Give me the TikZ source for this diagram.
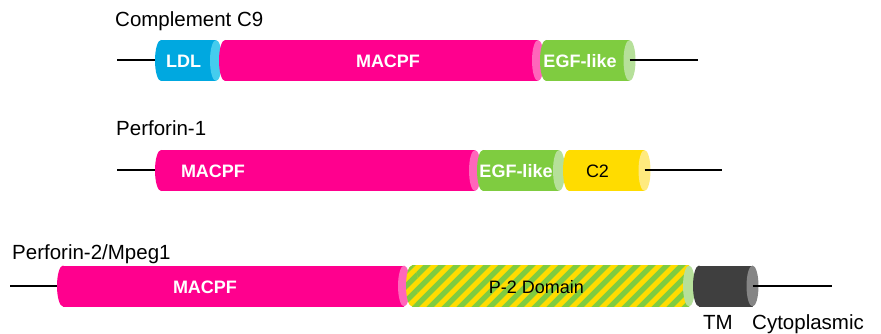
\documentclass[tikz,border=0pt]{standalone}
\usepackage{fontspec}
\setmainfont{Liberation Sans}
\definecolor{macpf}{HTML}{FF008E}
\definecolor{macpfcap}{HTML}{FF66BB}
\definecolor{ldl}{HTML}{00A8E0}
\definecolor{ldlcap}{HTML}{45CCEE}
\definecolor{egf}{HTML}{7FCC40}
\definecolor{egfcap}{HTML}{B6E09A}
\definecolor{ctwo}{HTML}{FFDC00}
\definecolor{ctwocap}{HTML}{FFEA7E}
\definecolor{tm}{HTML}{3F3F3F}
\definecolor{tmcap}{HTML}{858585}
% body of a domain cylinder: #1 name, #2 left centre x, #3 right centre x,
% #4 axis y, #5 body colour, #6 end-face colour
\newcommand\domcyl[6]{%
  \fill[#5] (#2,#4-20.5) rectangle (#3,#4+20.5);
  \fill[#5] (#2,#4) ellipse [x radius=6pt, y radius=20.5pt];
  \fill[#6] (#3,#4) ellipse [x radius=6pt, y radius=20.5pt];
  \coordinate (#1-l) at (#2,#4);
  \coordinate (#1-r) at (#3,#4);
}
% diagonal yellow/green stripes filling the current clip region
\newcommand\hatchfill{%
  \fill[ctwo] (395,260) rectangle (700,312);
  \foreach \k in {0,...,23}
    \draw[egf, line width=5.3pt] (350+\k*15,312) -- ++(52,-52);
}
\tikzset{
  title/.style={font=\fontsize{20.5}{24}\selectfont, anchor=base west, inner sep=0pt},
  dom/.style={font=\fontsize{18}{21}\selectfont\bfseries, text=white, anchor=base, inner sep=0pt},
  domdark/.style={font=\fontsize{18}{21}\selectfont, text=black, anchor=base, inner sep=0pt},
  tether/.style={line width=2pt, black},
}
\begin{document}
\begin{tikzpicture}[x=1pt, y=-1pt]
\useasboundingbox (0,0) rectangle (881,334);

% ---------------- Complement C9 ----------------
\node[title] (t1) at (115,27) {Complement C9};
\coordinate (a1) at (117,60.5);
\coordinate (b1) at (698,60.5);
\draw[tether] (a1) -- (161,60.5);
\domcyl{ldl}{161}{216}{60.5}{ldl}{ldlcap}
\domcyl{mac1}{225}{538}{60.5}{macpf}{macpfcap}
\domcyl{egf1}{546}{629.5}{60.5}{egf}{egfcap}
\draw[tether] (egf1-r) -- (b1);
\node[dom] (ldltxt) at (183.5,67.5) {LDL};
\node[dom] (mac1txt) at (388,67.5) {MACPF};
\node[dom] (egf1txt) at (580,67.5) {EGF-like};

% ---------------- Perforin-1 ----------------
\node[title] (t2) at (116,136) {Perforin-1};
\coordinate (a2) at (117,170.5);
\coordinate (b2) at (722,170.5);
\draw[tether] (a2) -- (161,170.5);
\domcyl{mac2}{161}{475}{170.5}{macpf}{macpfcap}
\domcyl{egf2}{483}{559}{170.5}{egf}{egfcap}
\domcyl{c2}{569}{644.5}{170.5}{ctwo}{ctwocap}
\draw[tether] (c2-r) -- (b2);
\node[dom] (mac2txt) at (213,177.5) {MACPF};
\node[dom] (egf2txt) at (516,177.5) {EGF-like};
\node[domdark] (c2txt) at (597.5,177.5) {C2};

% ---------------- Perforin-2/Mpeg1 ----------------
\node[title] (t3) at (12,259) {Perforin-2/Mpeg1};
\coordinate (a3) at (10,286);
\coordinate (b3) at (832,286);
\draw[tether] (a3) -- (63,286);
\domcyl{mac3}{63}{404}{286}{macpf}{macpfcap}
% striped P-2 domain: body clipped in two parts
\begin{scope}
  \clip (412,265.5) rectangle (689,306.5);
  \hatchfill
\end{scope}
\begin{scope}
  \clip (412,286) ellipse [x radius=6pt, y radius=20.5pt];
  \hatchfill
\end{scope}
\fill[egfcap] (689,286) ellipse [x radius=6pt, y radius=20.5pt];
\coordinate (p2-r) at (689,286);
\domcyl{tm}{699}{752.5}{286}{tm}{tmcap}
\draw[tether] (tm-r) -- (b3);
\node[dom] (mac3txt) at (205,293) {MACPF};
\node[domdark] (p2txt) at (536.5,293) {P-2 Domain};
\node[title] (tmtxt) at (703,329) {TM};
\node[title] (cyttxt) at (752,329) {Cytoplasmic};
\end{tikzpicture}
\end{document}
